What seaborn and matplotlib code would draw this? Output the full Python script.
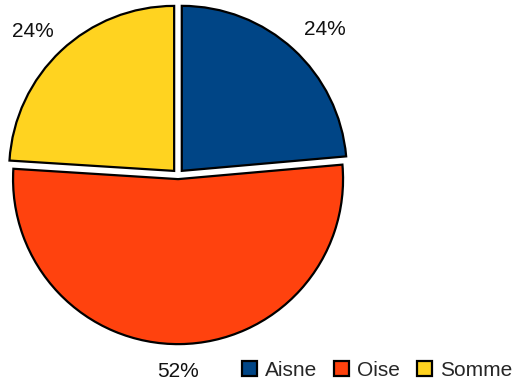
import matplotlib
matplotlib.use("Agg")
import matplotlib.pyplot as plt
import seaborn as sns

departments = ["Aisne", "Oise", "Somme"]
shares = [23.6, 52.4, 24.0]
colors = ["#004586", "#FF420E", "#FFD320"]

sns.set_theme(style="white")
plt.rcParams["font.family"] = ["Liberation Sans", "DejaVu Sans"]

W, H = 515, 382
fig = plt.figure(figsize=(W / 100, H / 100), dpi=100)
cx, cy, r = 178, 175, 165
ax = fig.add_axes([(cx - r) / W, (H - cy - r) / H, 2 * r / W, 2 * r / H])

wedges, texts, autotexts = ax.pie(
    shares,
    colors=colors,
    startangle=90,
    counterclock=False,
    explode=[0.034, 0.025, 0.034],
    autopct="%1.0f%%",
    pctdistance=1.22,
    wedgeprops=dict(edgecolor="black", linewidth=1.6),
    textprops=dict(fontsize=15, color="#111111"),
)
# nudge the percentage labels into their usual spots around the pie
offsets = [(0.045, -0.045), (0.0, 0.0), (-0.02, -0.045)]
for t, (dx, dy) in zip(autotexts, offsets):
    x, y = t.get_position()
    t.set_position((x + dx, y + dy))
x, y = autotexts[1].get_position()
autotexts[1].set_position((x - 0.015, y * 0.955))

ax.set_xlim(-1, 1)
ax.set_ylim(-1, 1)
ax.set_aspect("equal")
ax.axis("off")

fig.legend(
    wedges, departments,
    loc="lower right", bbox_to_anchor=(1.003, -0.005), ncol=3, frameon=False,
    fontsize=15, handlelength=0.72, handleheight=0.72, handletextpad=0.4,
    columnspacing=0.8, borderaxespad=0.05, borderpad=0.15,
)

fig.savefig("out.png", dpi=100, facecolor="white")
